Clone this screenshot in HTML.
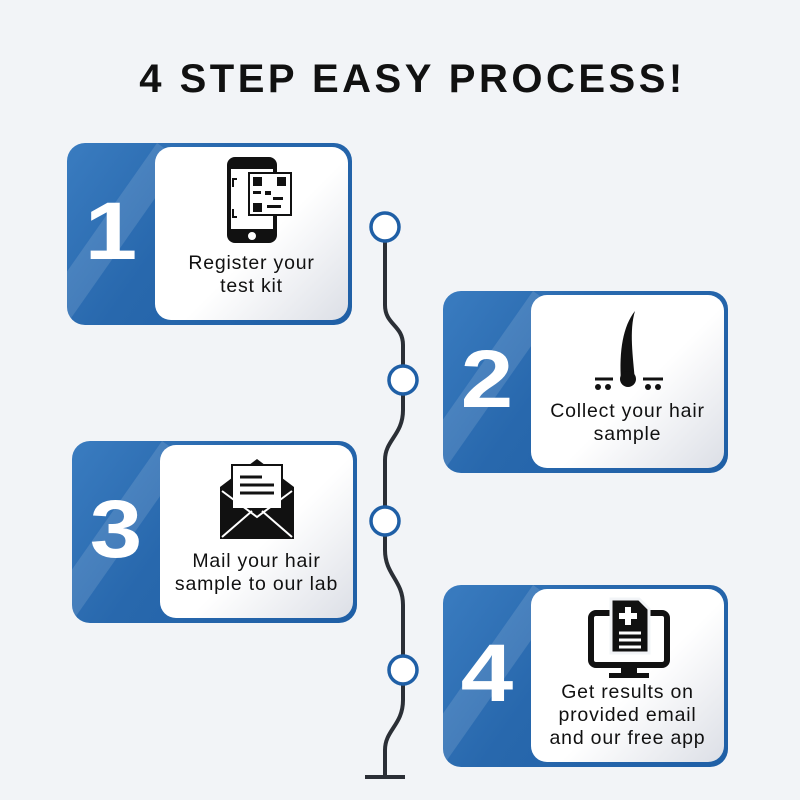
<!DOCTYPE html>
<html><head><style>
body{margin:0;width:800px;height:800px;background:#f2f4f7;position:relative;overflow:hidden;font-family:"Liberation Sans",sans-serif}
.t{position:absolute;left:0;width:825px;top:57px;text-align:center;font-weight:bold;font-size:40px;color:#111;letter-spacing:3.5px}
.card{position:absolute;width:285px;height:182px;border-radius:18px;background:linear-gradient(125deg,#3a7cc0 0%,#2868ad 40%,#1f5fa6 100%);overflow:hidden}
.card:before{content:"";position:absolute;top:0;width:30px;height:300px;background:rgba(255,255,255,0.12);transform:rotate(35deg);transform-origin:top left;left:90px}
.num{position:absolute;left:0;width:88px;top:42px;text-align:center;color:#fff;font-weight:bold;font-size:82px;transform:scaleX(1.15)}
.in{position:absolute;left:88px;top:4px;right:4px;bottom:5px;border-radius:16px;background:linear-gradient(135deg,#fff 55%,#dcdfe6 100%);text-align:center}
.lb{position:absolute;left:0;right:0;bottom:22px;font-size:19.5px;line-height:23px;color:#111;letter-spacing:0.8px}
svg.ic{position:absolute;left:50%;transform:translateX(-50%);top:6px}
</style></head><body>
<div class="t">4 STEP EASY PROCESS!</div>
<svg style="position:absolute;left:0;top:0" width="800" height="800">
<path d="M385 240 V305 C385 325 403 325 403 345 V380 V410 C403 435 385 440 385 460 V521 V550 C385 575 403 580 403 605 V670 V700 C403 725 385 730 385 750 V777" fill="none" stroke="#2b2f36" stroke-width="4"/>
<path d="M365 777 H405" stroke="#2b2f36" stroke-width="4"/>
<g fill="#fff" stroke="#1f5fa6" stroke-width="3.5"><circle cx="385" cy="227" r="14"/><circle cx="403" cy="380" r="14"/><circle cx="385" cy="521" r="14"/><circle cx="403" cy="670" r="14"/></g>
</svg>
<div class="card" style="left:67px;top:143px"><div class="num">1</div><div class="in">
<svg class="ic" width="90" height="95" viewBox="0 0 90 95"><rect x="20" y="4" width="50" height="86" rx="8" fill="#111"/><rect x="24" y="16" width="42" height="60" fill="#fff"/><circle cx="45" cy="83" r="4" fill="#fff"/><rect x="42" y="20" width="42" height="42" fill="#fff" stroke="#111" stroke-width="2"/><g fill="#111"><rect x="46" y="24" width="9" height="9"/><rect x="70" y="24" width="9" height="9"/><rect x="46" y="50" width="9" height="9"/><rect x="58" y="38" width="6" height="4"/><rect x="66" y="44" width="10" height="3"/><rect x="60" y="52" width="14" height="3"/><rect x="46" y="38" width="8" height="3"/></g><path d="M30 26 h-4 v8 M30 64 h-4 v-8" stroke="#111" stroke-width="2" fill="none"/></svg>
<div class="lb">Register your<br>test kit</div></div></div>
<div class="card" style="left:443px;top:291px"><div class="num">2</div><div class="in">
<svg class="ic" width="90" height="95" viewBox="0 0 90 95"><path d="M38 80 C36 50 40 25 52 10 C46 30 50 55 52 80 Z" fill="#111"/><circle cx="45" cy="78" r="8" fill="#111"/><path d="M12 78 H30 M60 78 H80" stroke="#111" stroke-width="3"/><g fill="#111"><circle cx="15" cy="86" r="3"/><circle cx="25" cy="86" r="3"/><circle cx="65" cy="86" r="3"/><circle cx="75" cy="86" r="3"/></g></svg>
<div class="lb">Collect your hair<br>sample</div></div></div>
<div class="card" style="left:72px;top:441px"><div class="num">3</div><div class="in">
<svg class="ic" width="90" height="95" viewBox="0 0 90 95"><rect x="8" y="36" width="74" height="52" fill="#111"/><path d="M8 36 L45 8 L82 36" fill="#111"/><rect x="20" y="14" width="50" height="44" fill="#fff" stroke="#111" stroke-width="2"/><path d="M28 26 H50 M28 34 H62 M28 42 H62" stroke="#111" stroke-width="3"/><path d="M10 86 L40 60 M80 86 L50 60 M10 40 L45 66 L80 40" stroke="#fff" stroke-width="2" fill="none"/></svg>
<div class="lb">Mail your hair<br>sample to our lab</div></div></div>
<div class="card" style="left:443px;top:585px"><div class="num">4</div><div class="in">
<svg class="ic" width="90" height="85" viewBox="0 0 90 85"><rect x="8" y="18" width="76" height="52" rx="5" fill="none" stroke="#111" stroke-width="6"/><rect x="38" y="70" width="16" height="10" fill="#111"/><rect x="26" y="78" width="40" height="5" fill="#111"/><path d="M28 4 H56 L66 14 V58 H28 Z" fill="#111" stroke="#f2f4f7" stroke-width="3"/><path d="M36 18 h6 v-6 h6 v6 h6 v6 h-6 v6 h-6 v-6 h-6z" fill="#fff"/><path d="M36 38 H58 M36 45 H58 M36 52 H58" stroke="#fff" stroke-width="3"/></svg>
<div class="lb" style="bottom:12px">Get results on<br>provided email<br>and our free app</div></div></div>
</body></html>
